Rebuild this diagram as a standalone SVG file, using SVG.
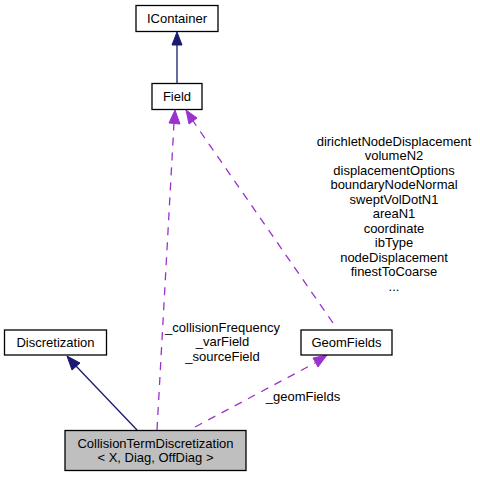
<svg xmlns="http://www.w3.org/2000/svg" width="480" height="477" viewBox="0 0 480 477">
<style>
text{font-family:"Liberation Sans",Arial,sans-serif;font-size:13px;fill:#000;text-anchor:middle}
.box{fill:#fff;stroke:#000;stroke-width:1.3}
.cur{fill:#bfbfbf;stroke:#000;stroke-width:1.3}
.inh{stroke:#191970;stroke-width:1.3;fill:none}
.use{stroke:#9a32cd;stroke-width:1.3;fill:none;stroke-dasharray:8,7}
.ah{fill:#191970;stroke:#191970}
.ap{fill:#9a32cd;stroke:#9a32cd}
</style>
<rect width="480" height="477" fill="#fff"/>
<g id="edges">
<line class="inh" x1="177" y1="83" x2="177" y2="45"/>
<polygon class="ah" points="177,32 172,45 182,45"/>
<line class="inh" x1="137" y1="430" x2="76" y2="366"/>
<polygon class="ah" points="67,356 72,370 80,363"/>
<line class="use" x1="157" y1="430" x2="174" y2="123"/>
<polygon class="ap" points="175,110 169,123 180,124"/>
<line class="use" x1="333" y1="323" x2="193" y2="121"/>
<polygon class="ap" points="186,110 189,124 197,118"/>
<line class="use" x1="195" y1="427" x2="315" y2="363"/>
<polygon class="ap" points="327,355 313,358 318,367"/>
<text x="222.5" y="331.5">_collisionFrequency</text>
<text x="222.5" y="346">_varField</text>
<text x="222.5" y="360.5">_sourceField</text>
<text x="394" y="145.5">dirichletNodeDisplacement</text>
<text x="394" y="160">volumeN2</text>
<text x="394" y="174.5">displacementOptions</text>
<text x="394" y="189">boundaryNodeNormal</text>
<text x="394" y="203.5">sweptVolDotN1</text>
<text x="394" y="218">areaN1</text>
<text x="394" y="232.5">coordinate</text>
<text x="394" y="247">ibType</text>
<text x="394" y="261.5">nodeDisplacement</text>
<text x="394" y="276">finestToCoarse</text>
<text x="394" y="290.5">...</text>
<text x="303" y="401">_geomFields</text>
</g>
<g id="IContainer">
<rect class="box" x="136" y="5.5" width="82" height="26"/>
<text x="177" y="23">IContainer</text>
</g>
<g id="Field">
<rect class="box" x="152" y="83.5" width="50" height="26"/>
<text x="177" y="101">Field</text>
</g>
<g id="Discretization">
<rect class="box" x="4.5" y="330" width="102" height="25"/>
<text x="55.5" y="347">Discretization</text>
</g>
<g id="GeomFields">
<rect class="box" x="301" y="330" width="91" height="25"/>
<text x="346.5" y="347">GeomFields</text>
</g>
<g id="CollisionTermDiscretization">
<rect class="cur" x="65" y="430.5" width="181" height="40"/>
<text x="155.5" y="447.5">CollisionTermDiscretization</text>
<text x="155.5" y="462">&lt; X, Diag, OffDiag &gt;</text>
</g>
</svg>
